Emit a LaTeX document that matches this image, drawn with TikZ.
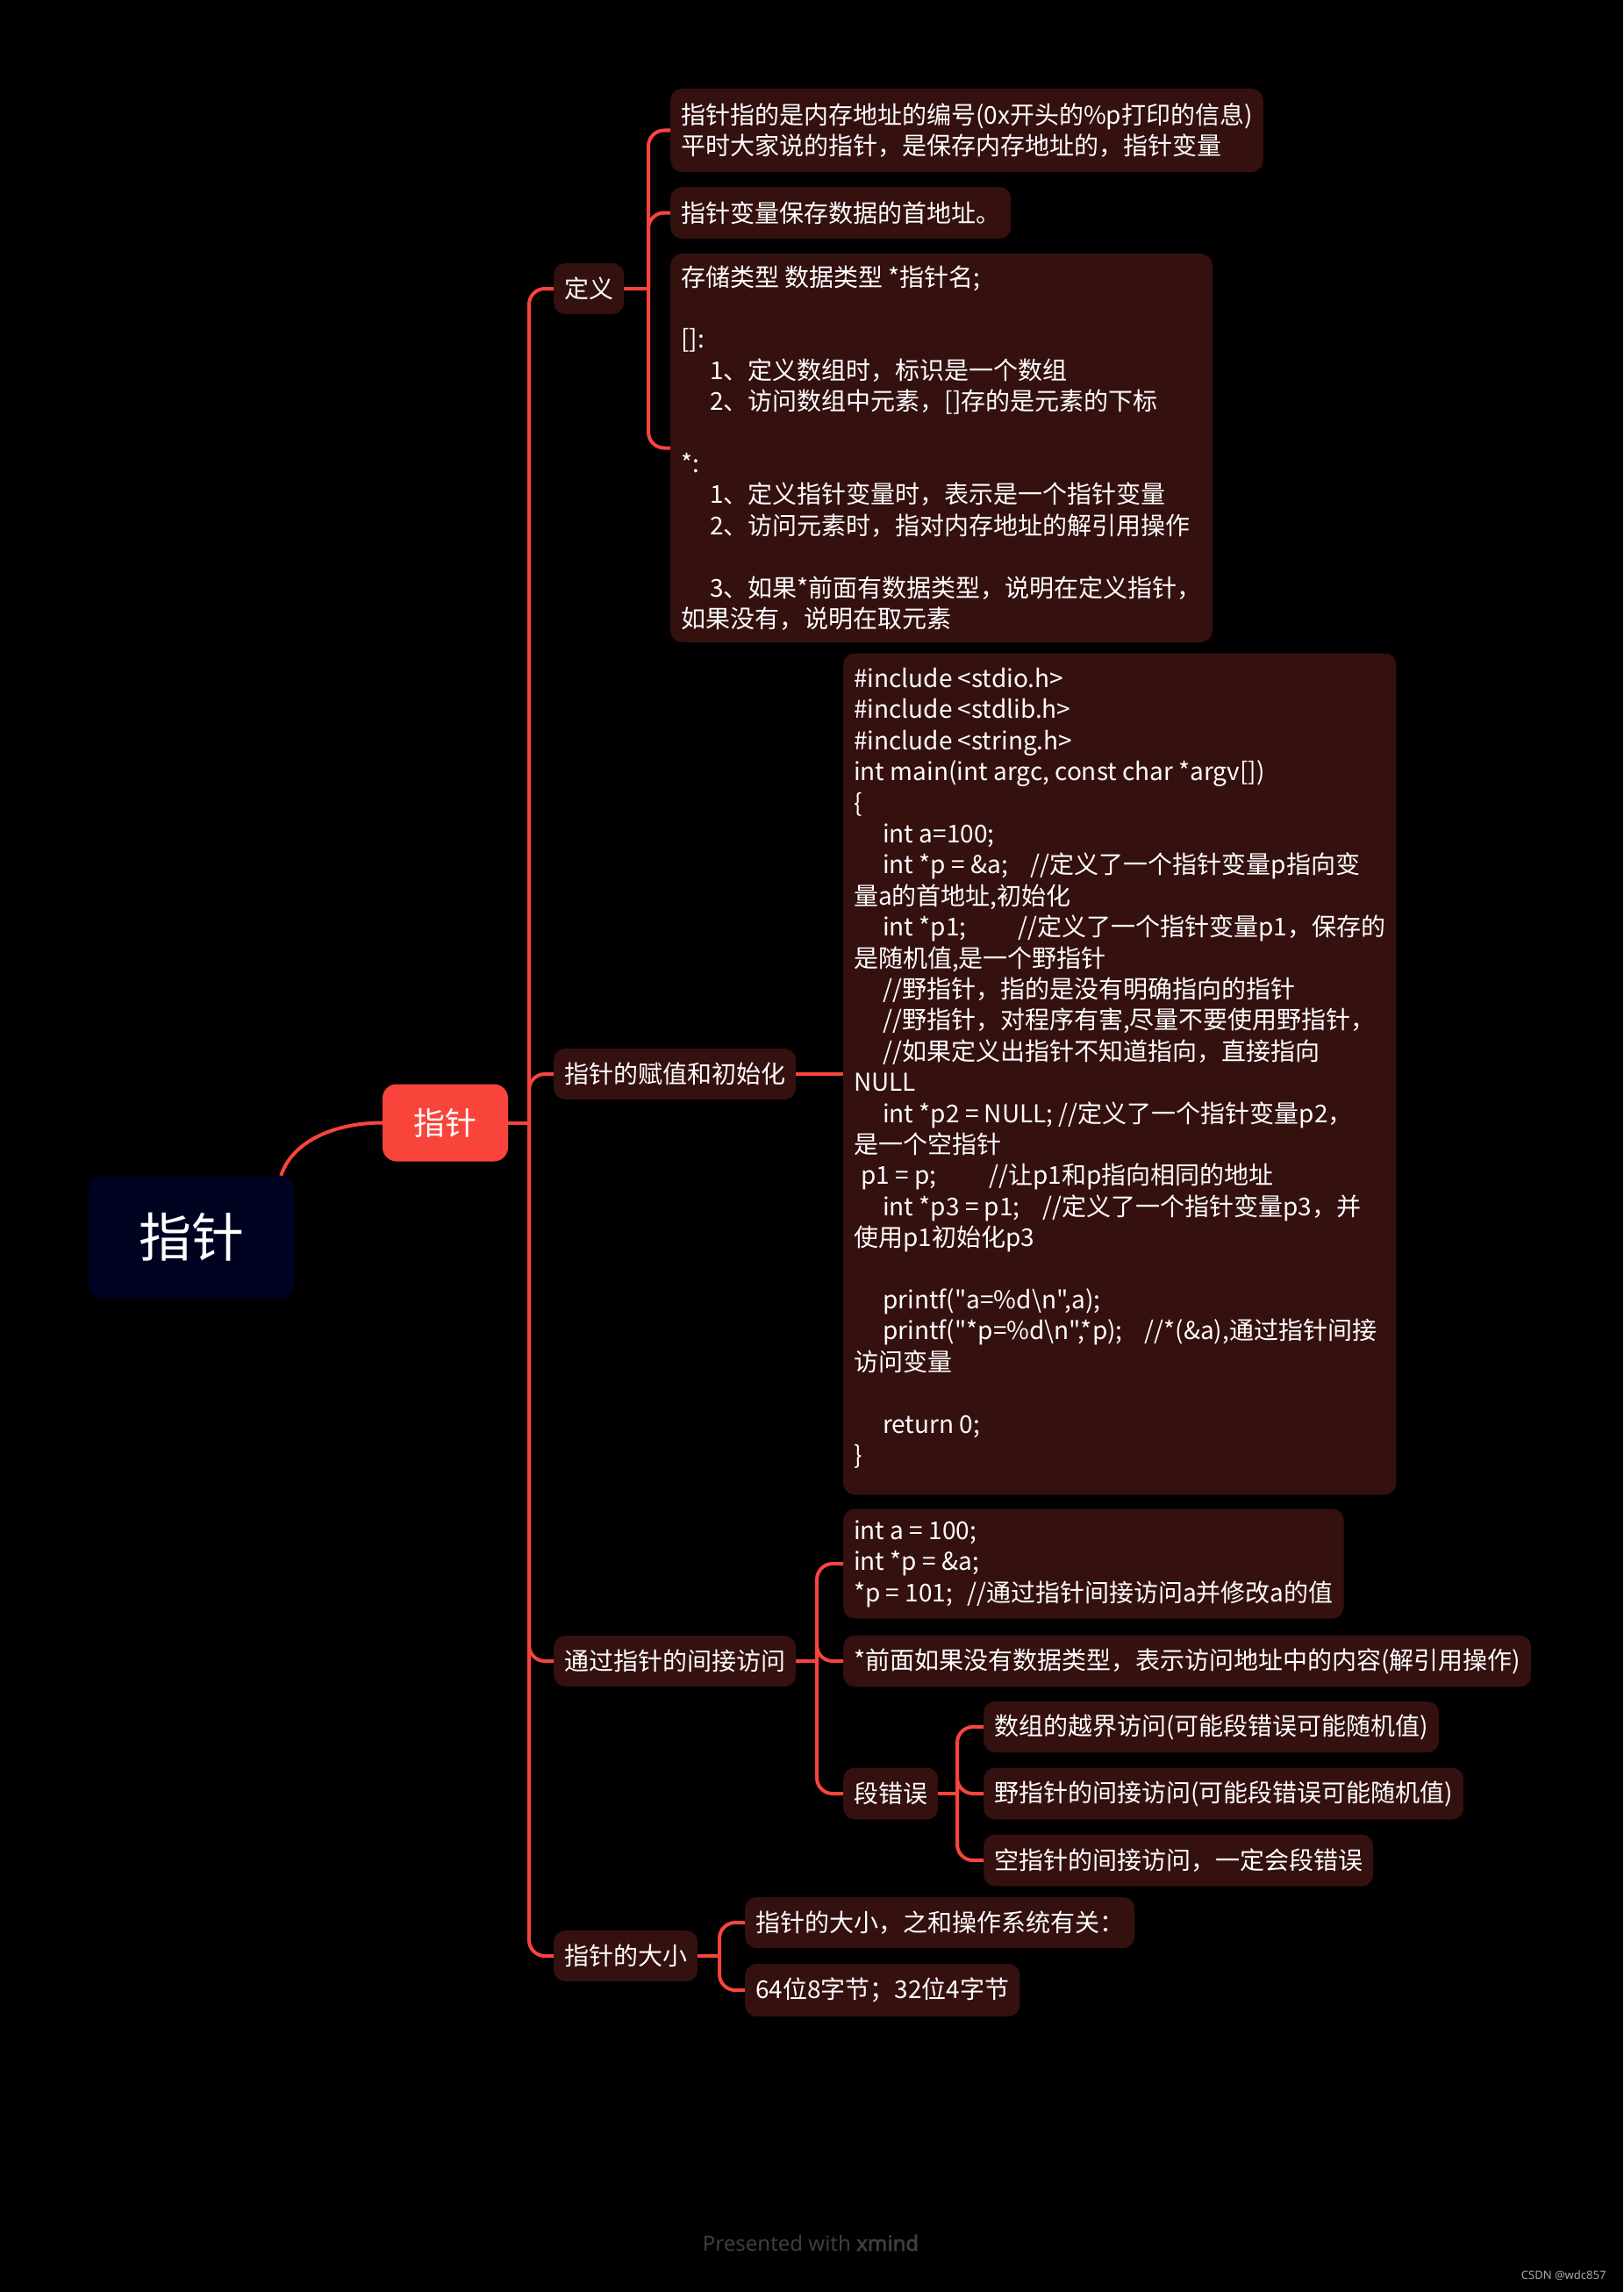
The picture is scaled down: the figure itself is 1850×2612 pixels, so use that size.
\documentclass[tikz,border=0pt]{standalone}
\usepackage{fontspec}
\usetikzlibrary{calc}
\newfontfamily\cjk{Noto Sans CJK SC}
\newfontfamily\footfont{Noto Sans}
\newfontfamily\footbold{Noto Sans}[FakeBold=2.5]
\definecolor{boxc}{RGB}{52,16,15}
\definecolor{linec}{RGB}{249,68,60}
\definecolor{rootc}{RGB}{0,2,34}
\definecolor{footc}{RGB}{62,62,62}
\definecolor{csdnc}{RGB}{170,170,170}
\newcommand{\ind}{\hspace*{33pt}}
\begin{document}
\begin{tikzpicture}[x=1pt,y=-1pt,
  box/.style={fill=boxc, rounded corners=13pt, inner xsep=12pt, inner ysep=0pt,
    minimum height=58pt, align=left, text=white, anchor=west,
    font=\cjk\fontsize{28pt}{35.4pt}\selectfont},
  rootbox/.style={fill=rootc, rounded corners=16pt, minimum width=234pt, minimum height=140pt,
    text=white, font=\cjk\fontsize{60pt}{70pt}\selectfont},
  mainbox/.style={fill=linec, rounded corners=16pt, minimum width=143pt, minimum height=88pt,
    text=white, font=\cjk\fontsize{36pt}{42pt}\selectfont},
  link/.style={draw=linec, line width=4pt},
  branch/.style={draw=linec, line width=4pt, rounded corners=18pt}]
\fill[black] (0,0) rectangle (1850,2612);

% root and main topic
\node[rootbox] (root) at (218,1410) {指针};
\node[mainbox] (zz) at (507.5,1279.5) {指针};

% level 2
\node[box] (dy) at (631,329) {定义};
\node[box] (fz) at (631,1224) {指针的赋值和初始化};
\node[box] (jj) at (631,1893) {通过指针的间接访问};
\node[box] (dx) at (631,2229) {指针的大小};

% under 定义
\node[box, minimum height=95pt] (d1) at (764,148.5)
  {指针指的是内存地址的编号(0x开头的\%p打印的信息)\\平时大家说的指针，是保存内存地址的，指针变量};
\node[box, minimum height=59pt] (d2) at (764,242.5) {指针变量保存数据的首地址。};
\node[box, minimum height=443pt] (d3) at (764,510.5)
  {存储类型 数据类型 *指针名;\\
   \mbox{}\\
   {[]}:\\
   \ind 1、定义数组时，标识是一个数组\\
   \ind 2、访问数组中元素，[]存的是元素的下标\\
   \mbox{}\\
   {*}:\\
   \ind 1、定义指针变量时，表示是一个指针变量\\
   \ind 2、访问元素时，指对内存地址的解引用操作\\
   \mbox{}\\
   \ind 3、如果*前面有数据类型，说明在定义指针，\\
   如果没有，说明在取元素};

% under 赋值和初始化
\node[box, minimum height=959pt] (code) at (961,1224)
  {\#include <stdio.h>\\
   \#include <stdlib.h>\\
   \#include <string.h>\\
   int main(int argc, const char *argv[])\\
   \{\\
   \ind int a=100;\\
   \ind int *p = \&a;\hspace{26pt}//定义了一个指针变量p指向变\\
   量a的首地址,初始化\\
   \ind int *p1;\hspace{59pt}//定义了一个指针变量p1，保存的\\
   是随机值,是一个野指针\\
   \ind //野指针，指的是没有明确指向的指针\\
   \ind //野指针，对程序有害,尽量不要使用野指针，\\
   \ind //如果定义出指针不知道指向，直接指向\\
   NULL\\
   \ind int *p2 = NULL; //定义了一个指针变量p2，\\
   是一个空指针\\
   \hspace*{8pt}p1 = p;\hspace{60pt}//让p1和p指向相同的地址\\
   \ind int *p3 = p1;\hspace{26pt}//定义了一个指针变量p3，并\\
   使用p1初始化p3\\
   \mbox{}\\
   \ind printf("a=\%d\textbackslash n",a);\\
   \ind printf("*p=\%d\textbackslash n",*p);\hspace{25pt}//*(\&a),通过指针间接\\
   访问变量\\
   \mbox{}\\
   \ind return 0;\\
   \}\\[-17pt]
   \mbox{}};

% under 间接访问
\node[box, minimum height=125pt] (j1) at (961,1782)
  {int a = 100;\\
   int *p = \&a;\\
   {*p} = 101;\hspace{16pt}//通过指针间接访问a并修改a的值};
\node[box, minimum height=59pt] (j2) at (961,1893) {*前面如果没有数据类型，表示访问地址中的内容(解引用操作)};
\node[box, minimum height=59pt] (j3) at (961,2044) {段错误};
\node[box] (s1) at (1121,1968) {数组的越界访问(可能段错误可能随机值)};
\node[box, minimum height=59pt] (s2) at (1121,2044) {野指针的间接访问(可能段错误可能随机值)};
\node[box, minimum height=59pt] (s3) at (1121,2120) {空指针的间接访问，一定会段错误};

% under 大小
\node[box] (x1) at (849,2191) {指针的大小，之和操作系统有关：};
\node[box, minimum height=60pt] (x2) at (849,2268) {64位8字节；32位4字节};

% spine points
\coordinate (s0) at (603,1279.5);
\coordinate (sd) at (739,329);
\coordinate (sj) at (931,1893);
\coordinate (sg) at (1091,2044);
\coordinate (sx) at (820,2229);

% connectors
\draw[link] ($(root.north east)+(-15,0)$) .. controls +(14,-42) and +(-50,0) .. (zz.west);
\draw[link] (zz.east) -- (s0);
\foreach \c in {dy,fz,jj,dx} \draw[branch] (s0) |- (\c.west);
\draw[link] (dy.east) -- (sd);
\foreach \c in {d1,d2,d3} \draw[branch] (sd) |- (\c.west);
\draw[link] (fz.east) -- (code.west);
\draw[link] (jj.east) -- (sj);
\foreach \c in {j1,j2,j3} \draw[branch] (sj) |- (\c.west);
\draw[link] (j3.east) -- (sg);
\foreach \c in {s1,s2,s3} \draw[branch] (sg) |- (\c.west);
\draw[link] (dx.east) -- (sx);
\foreach \c in {x1,x2} \draw[branch] (sx) |- (\c.west);

% footer
\node[text=footc, font=\footfont\fontsize{24pt}{28pt}\selectfont] (pw) at (924,2556) {Presented with {\footbold xmind}};
\node[text=csdnc, font=\footfont\fontsize{13pt}{15pt}\selectfont, anchor=east] (csdn) at (1834,2593) {CSDN @wdc857};
\end{tikzpicture}
\end{document}
